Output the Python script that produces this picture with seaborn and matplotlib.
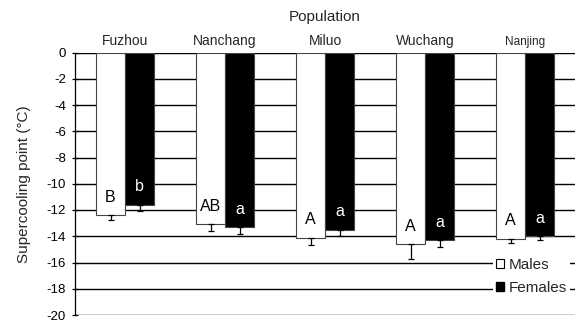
import numpy as np
import pandas as pd
import matplotlib
matplotlib.use("Agg")
import matplotlib.pyplot as plt
import seaborn as sns
from matplotlib.patches import Patch

populations = ["Fuzhou", "Nanchang", "Miluo", "Wuchang", "Nanjing"]
males_mean = [-12.4, -13.1, -14.1, -14.6, -14.2]
females_mean = [-11.6, -13.3, -13.5, -14.3, -14.0]
males_se = [0.33, 0.5, 0.6, 1.15, 0.3]
females_se = [0.5, 0.55, 0.45, 0.55, 0.3]
males_letters = ["B", "AB", "A", "A", "A"]
females_letters = ["b", "a", "a", "a", "a"]
sexes = ["Males", "Females"]

df = pd.DataFrame({
    "Population": populations * 2,
    "Sex": [sexes[0]] * len(populations) + [sexes[1]] * len(populations),
    "SCP": males_mean + females_mean,
})

sns.set_theme(style="white")
plt.rcParams["font.family"] = ["Liberation Sans", "DejaVu Sans"]

fig = plt.figure(figsize=(5.77, 3.22), dpi=100)
ax = fig.add_axes([75 / 577, 1 - 315 / 322, 500 / 577, (315 - 52.5) / 322])

# horizontal grid lines sit behind the bars
for yv in np.arange(0, -21, -2):
    ax.axhline(yv, color="black", lw=1.0, zorder=0)

sns.barplot(data=df, x="Population", y="SCP", hue="Sex", order=populations,
            hue_order=sexes, palette={"Males": "white", "Females": "black"},
            width=0.58, errorbar=None, legend=False, ax=ax,
            edgecolor="#444444", linewidth=0.8, zorder=2)

bars = list(ax.patches)
male_bars = bars[:len(populations)]
female_bars = bars[len(populations):]

for group, means, errs, letters, tcol in [
        (male_bars, males_mean, males_se, males_letters, "black"),
        (female_bars, females_mean, females_se, females_letters, "white")]:
    xs = [b.get_x() + b.get_width() / 2 for b in group]
    # one-sided error bars pointing downward
    ax.errorbar(xs, means, yerr=[errs, np.zeros(len(errs))], fmt="none",
                ecolor="black", elinewidth=0.9, capsize=2.5, capthick=0.9,
                zorder=3)
    for x, m, lab in zip(xs, means, letters):
        ax.text(x, m + 0.8, lab, ha="center", va="bottom", color=tcol,
                fontsize=11.5, zorder=4)

ax.set_ylim(-20, 0)
ax.set_xlim(-0.5, len(populations) - 0.5)
ax.set_yticks(np.arange(0, -21, -2))
ax.set_yticklabels([str(v) for v in range(0, -21, -2)], fontsize=9.5)
ax.tick_params(axis="y", direction="inout", length=5, width=0.9, pad=4,
               left=True, colors="black")
ax.set_ylabel("Supercooling point (\u00b0C)", fontsize=11, labelpad=11)

# population names along the top
ax.xaxis.tick_top()
ax.set_xticks(range(len(populations)))
ax.set_xticklabels(populations, fontsize=10)
ax.get_xticklabels()[-1].set_fontsize(8.5)
ax.tick_params(axis="x", length=0, pad=3)
ax.set_xlabel("")
ax.text(0.5, 1 + 28 / 262.5, "Population", transform=ax.transAxes,
        ha="center", va="bottom", fontsize=11)

for side in ["top", "right", "bottom"]:
    ax.spines[side].set_visible(False)
ax.spines["left"].set_color("black")
ax.spines["left"].set_linewidth(0.9)

handles = [Patch(facecolor="white", edgecolor="black", linewidth=0.8, label="Males"),
           Patch(facecolor="black", edgecolor="black", label="Females")]
leg = ax.legend(handles=handles, loc="lower right",
                bbox_to_anchor=(0.99, 0.065), frameon=True, fontsize=11,
                handlelength=0.55, handleheight=0.55, handletextpad=0.3,
                labelspacing=0.6, borderpad=0.2, borderaxespad=0)
leg.get_frame().set_facecolor("white")
leg.get_frame().set_edgecolor("none")
leg.get_frame().set_alpha(1)
leg.set_zorder(5)

fig.savefig("out.png", dpi=100)
